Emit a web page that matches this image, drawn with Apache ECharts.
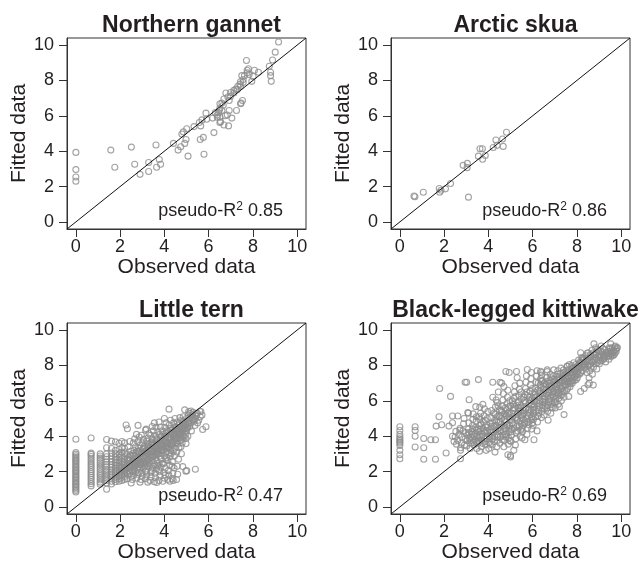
<!DOCTYPE html>
<html>
<head>
<meta charset="utf-8">
<script src="https://cdn.jsdelivr.net/npm/echarts@6/dist/echarts.min.js"></script>
<style>html,body{margin:0;padding:0;background:#fff}#c{width:644px;height:564px}</style>
</head>
<body>
<div id="c"></div>
<script>
const panelTitles = ['Northern gannet', 'Arctic skua', 'Little tern', 'Black-legged kittiwake'];
const r2Values = ['0.85', '0.86', '0.47', '0.69'];
const tickValues = [0, 2, 4, 6, 8, 10];
const axisRange = [-0.4, 10.4];
const xAxisName = 'Observed data';
const yAxisName = 'Fitted data';

const gannetData = [
[0,3.93],[0,2.96],[0,2.54],[0,2.30],
[1.58,4.06],[1.76,3.09],[2.51,4.23],[2.66,3.26],[2.90,2.69],[3.29,3.36],[3.29,2.85],[3.62,4.35],[3.65,3.09],[3.77,3.53],[3.83,3.26],
[4.41,4.44],[4.62,4.06],[4.74,4.25],[4.92,4.44],[4.98,4.66],[4.79,4.97],[5.01,5.27],[5.07,3.72],[5.34,5.39],[5.62,4.66],[5.64,5.43],[5.70,5.77],[5.76,4.78],[5.79,3.83],[5.88,6.15],
[6.18,5.87],[6.24,5.05],[6.39,6.05],[6.45,6.18],[6.51,6.43],[6.54,5.67],[6.60,6.72],[6.69,5.48],[6.78,7.29],[6.84,6.05],[6.90,5.43],[6.93,6.87],[6.99,7.10],[7.05,5.87],[7.14,7.29],[7.26,6.30],[7.29,7.48],[7.44,7.67],[7.47,6.72],[7.53,6.87],[7.56,7.89],[7.71,9.13],[7.74,8.58],[7.83,8.33],[7.95,7.95],[8.07,8.58],[8.25,8.46],[8.74,8.80],[8.80,8.46],[8.80,8.27],[8.83,7.95],[8.89,9.16],[9.01,9.60],[9.16,10.17],
[7.80,8.66],[7.74,8.43],[7.62,8.27],[7.50,8.27],[7.56,8.05],[7.44,7.93],[7.41,7.78],[7.32,7.67],[7.23,7.52],[7.14,7.44],[6.99,7.32],[6.87,7.06],[6.69,6.95],[6.51,6.68],[6.66,6.60],[7.44,6.68],[6.60,6.30],[6.48,6.30],[6.30,6.18],[6.39,5.92],[6.51,5.92],[6.75,6.00],[6.93,6.30],[6.51,5.62],[5.91,5.81],[5.58,5.62],[4.86,5.09],[8.01,8.23]
];

const skuaData = [
[0.64,1.47],[0.68,1.42],[1.06,1.68],[1.78,1.89],[1.80,1.68],[1.86,1.79],[2.06,1.87],[2.29,2.17],[2.86,3.20],[3.05,3.31],[3.04,3.07],[3.10,1.40],
[3.55,3.72],[3.62,4.14],[3.73,4.14],[3.74,3.54],[3.86,3.76],[4.22,4.21],[4.34,4.63],[4.40,4.33],[4.64,4.69],[4.67,4.27],[4.82,5.07]
];

const ternData = [
[0,0.84],[0,0.93],[0,1.01],[0,1.1],[0,1.17],[0,1.26],[0,1.34],[0,1.41],[0,1.5],[0,1.58],[0,1.66],[0,1.73],[0,1.81],[0,1.9],[0,1.98],[0,2.06],[0,2.13],[0,2.22],[0,2.3],[0,2.38],[0,2.47],[0,2.55],[0,2.63],[0,2.71],[0,2.8],[0,2.89],[0,2.98],[0,3.07],[0,3.83],
[0.69,1.19],[0.69,1.31],[0.69,1.42],[0.69,1.55],[0.69,1.66],[0.69,1.78],[0.69,1.89],[0.69,2.0],[0.69,2.12],[0.69,2.24],[0.69,2.36],[0.69,2.47],[0.69,2.6],[0.69,2.72],[0.69,2.85],[0.69,2.97],[0.69,3.04],[0.69,3.9],
[1.1,1.28],[1.1,1.4],[1.1,1.52],[1.1,1.64],[1.1,1.77],[1.1,1.88],[1.1,2.0],[1.1,2.13],[1.1,2.25],[1.1,2.38],[1.1,2.5],[1.1,2.63],[1.1,2.76],[1.1,2.88],[1.1,3.0],
[1.39,1.0],[1.39,1.35],[1.39,1.5],[1.39,1.62],[1.39,1.74],[1.39,1.87],[1.39,2.0],[1.39,2.12],[1.39,2.27],[1.39,2.4],[1.39,2.55],[1.39,2.7],[1.39,2.84],[1.39,3.0],[1.39,3.35],[1.39,3.81],
[1.61,1.3],[1.61,1.45],[1.61,1.58],[1.61,1.7],[1.61,1.84],[1.61,1.98],[1.61,2.1],[1.61,2.25],[1.61,2.4],[1.61,2.56],[1.61,2.7],[1.61,2.86],[1.61,3.05],[1.61,3.3],[1.61,3.72],
[1.79,1.42],[1.79,1.55],[1.79,1.68],[1.79,1.82],[1.79,1.95],[1.79,2.08],[1.79,2.2],[1.79,2.35],[1.79,2.5],[1.79,2.66],[1.79,2.82],[1.79,3.0],[1.79,3.2],[1.79,3.68],
[1.95,1.45],[1.95,1.6],[1.95,1.75],[1.95,1.9],[1.95,2.03],[1.95,2.18],[1.95,2.32],[1.95,2.48],[1.95,2.62],[1.95,2.8],[1.95,3.0],[1.95,3.25],[1.95,3.6],
[2.08,1.5],[2.08,1.66],[2.08,1.8],[2.08,1.95],[2.08,2.1],[2.08,2.25],[2.08,2.4],[2.08,2.56],[2.08,2.72],[2.08,2.9],[2.08,3.1],[2.08,3.35],[2.08,3.7],
[2.2,1.55],[2.2,1.72],[2.2,1.88],[2.2,2.02],[2.2,2.18],[2.2,2.34],[2.2,2.5],[2.2,2.68],[2.2,2.85],[2.2,3.05],[2.2,3.3],[2.2,3.62],
[2.27,4.63],[2.33,4.42],[2.81,4.61],[3.15,4.34],[2.5,1.35],[2.9,1.4],[3.25,1.4],
[2.32,1.6],[2.35,1.85],[2.4,2.05],[2.3,2.25],[2.45,2.4],[2.38,2.6],[2.42,2.78],[2.33,2.95],[2.48,3.15],[2.36,3.4],[2.44,3.7],[2.5,1.72],[2.47,2.2],[2.5,2.9],
[2.55,1.55],[2.6,1.78],[2.58,1.98],[2.64,2.15],[2.56,2.32],[2.66,2.5],[2.6,2.68],[2.68,2.85],[2.57,3.02],[2.63,3.2],[2.7,3.4],[2.6,3.62],[2.66,3.85],[2.7,2.0],[2.7,2.6],
[2.75,1.62],[2.8,1.85],[2.78,2.1],[2.84,2.28],[2.76,2.45],[2.86,2.62],[2.8,2.8],[2.88,2.98],[2.77,3.15],[2.83,3.32],[2.9,3.5],[2.8,3.7],[2.86,3.95],[2.9,2.2],[2.9,2.75],[2.74,4.1],
[2.95,1.55],[3.0,1.75],[2.98,1.95],[3.04,2.18],[2.96,2.38],[3.06,2.55],[3.0,2.72],[3.08,2.9],[2.97,3.08],[3.03,3.25],[3.1,3.45],[3.0,3.62],[3.06,3.82],[2.96,4.05],[3.1,2.3],[3.1,3.1],
[3.15,1.6],[3.2,1.82],[3.18,2.05],[3.24,2.28],[3.16,2.45],[3.26,2.65],[3.2,2.82],[3.28,3.0],[3.17,3.18],[3.23,3.35],[3.3,3.55],[3.2,3.72],[3.26,3.9],[3.3,4.15],[3.3,2.5],[3.3,3.2],[3.18,4.4],
[3.35,1.5],[3.4,1.7],[3.38,1.95],[3.44,2.2],[3.36,2.42],[3.46,2.6],[3.4,2.78],[3.48,2.95],[3.37,3.12],[3.43,3.3],[3.5,3.48],[3.4,3.65],[3.46,3.85],[3.38,4.05],[3.5,4.3],[3.5,2.3],[3.5,3.1],[3.45,4.55],
[3.55,1.42],[3.66,1.38],[3.6,1.65],[3.58,1.9],[3.64,2.15],[3.56,2.4],[3.66,2.6],[3.6,2.8],[3.68,2.98],[3.57,3.15],[3.63,3.32],[3.7,3.5],[3.6,3.68],[3.66,3.86],[3.58,4.05],[3.7,4.25],[3.62,4.5],[3.7,2.35],[3.7,3.1],[3.55,4.75],
[3.75,1.5],[3.8,1.75],[3.78,2.0],[3.84,2.25],[3.76,2.48],[3.86,2.7],[3.8,2.88],[3.88,3.05],[3.77,3.22],[3.83,3.4],[3.9,3.58],[3.8,3.75],[3.86,3.92],[3.78,4.1],[3.9,4.3],[3.82,4.52],[3.9,2.45],[3.9,3.2],[3.76,4.8],
[3.93,1.45],[4.0,1.62],[3.98,1.95],[4.04,2.2],[3.96,2.45],[4.06,2.68],[4.0,2.9],[4.08,3.08],[3.97,3.25],[4.03,3.42],[4.1,3.6],[4.0,3.78],[4.06,3.95],[3.98,4.12],[4.1,4.3],[4.02,4.5],[4.08,4.75],[4.1,2.8],[4.1,3.3],[4.0,5.0],
[4.15,1.55],[4.25,1.45],[4.2,1.8],[4.18,2.05],[4.24,2.35],[4.16,2.62],[4.26,2.85],[4.2,3.05],[4.28,3.22],[4.17,3.4],[4.23,3.58],[4.3,3.75],[4.2,3.92],[4.26,4.1],[4.18,4.28],[4.3,4.45],[4.22,4.65],[4.28,4.9],[4.21,5.53],[4.3,3.0],[4.3,3.5],
[4.35,1.6],[4.4,1.5],[4.38,1.9],[4.44,2.2],[4.36,2.55],[4.46,2.9],[4.4,3.15],[4.48,3.32],[4.37,3.5],[4.43,3.68],[4.5,3.85],[4.4,4.02],[4.46,4.2],[4.38,4.38],[4.5,4.55],[4.42,4.75],[4.48,5.0],[4.5,3.6],[4.5,4.1],
[4.55,1.55],[4.6,1.85],[4.58,2.3],[4.64,2.7],[4.56,3.1],[4.66,3.35],[4.6,3.55],[4.68,3.72],[4.57,3.9],[4.63,4.08],[4.7,4.25],[4.6,4.42],[4.66,4.6],[4.58,4.8],[4.7,5.05],[4.7,3.9],[4.55,4.3],
[4.77,3.01],[4.75,3.4],[4.8,3.62],[4.78,3.82],[4.84,4.0],[4.76,4.18],[4.86,4.35],[4.8,4.52],[4.88,4.7],[4.78,4.9],[4.85,5.1],[4.9,4.45],[4.83,2.28],[4.9,3.95],
[4.92,5.49],[4.98,3.87],[4.98,3.58],[5.01,2.05],[4.97,2.02],[4.95,4.1],[5.0,4.28],[5.05,4.46],[4.96,4.64],[5.04,4.82],[5.0,5.0],[5.08,5.2],[5.1,4.7],[5.06,4.0],[5.1,5.4],
[5.16,5.29],[5.2,5.42],[5.3,5.35],[5.15,4.55],[5.2,4.75],[5.25,4.95],[5.3,5.1],[5.22,4.3],[5.35,4.85],[5.4,5.0],[5.45,5.3],[5.49,5.3],[5.4,2.13],[5.38,4.6],[5.5,4.75],
[5.6,5.4],[5.65,5.4],[5.55,4.9],[5.73,4.38],[5.88,4.53],[5.62,5.1],[5.7,5.2],
[2.25,2.1],[2.37,2.45],[2.43,1.9],[2.52,2.55],[2.62,2.25],[2.68,2.7],[2.73,2.35],[2.82,2.55],[2.87,3.1],[2.93,2.5],[3.02,2.85],[3.07,3.35],[3.12,2.65],[3.22,3.05],[3.27,3.5],[3.32,2.75],[3.42,3.15],[3.47,3.6],[3.53,2.9],[3.62,3.45],[3.67,3.8],[3.73,3.25],[3.82,3.6],[3.87,4.0],[3.93,3.4],[4.02,3.65],[4.07,4.15],[4.13,3.5],[4.22,3.85],[4.27,4.35],[4.33,3.65],[4.42,4.1],[4.47,4.5],[4.53,3.95],[4.62,4.3],[4.67,4.7],[4.73,4.1],[4.82,4.45],[4.87,4.85],[4.93,4.3],[5.02,4.6],[5.13,4.9],[5.27,5.2],[3.15,2.0],[3.45,2.05],[3.75,2.1],[4.05,1.8],[4.35,2.3],[2.55,2.05],[2.85,1.95],
[2.28,1.95],[2.34,2.7],[2.41,2.3],[2.46,2.95],[2.53,2.4],[2.59,2.9],[2.65,2.35],[2.71,3.05],[2.77,2.6],[2.83,3.15],[2.89,2.4],[2.95,3.0],[3.01,2.45],[3.07,3.05],[3.13,2.5],[3.19,3.15],[3.25,2.6],[3.31,3.35],[3.37,2.9],[3.43,3.5],[3.49,2.85],[3.55,3.35],[3.61,3.0],[3.67,3.6],[3.73,3.0],[3.79,3.5],[3.85,3.2],[3.91,3.8],[3.97,3.55],[4.03,3.95],[4.09,3.4],[4.15,3.9],[4.21,3.35],[4.27,3.95],[4.33,4.2],[4.39,3.6],[4.45,4.0],[4.51,4.35],[4.57,3.75],[4.63,4.2],[4.69,4.5],[4.75,4.0],[4.81,4.3],[4.87,4.55],[4.93,4.75],[4.99,4.45],[5.07,4.75],[5.18,5.05],[5.32,4.95],[5.43,5.15]
];

const kittiwakeData = [
[0,4.53],[0,4.32],[0,4.11],[0,3.97],[0,3.85],[0,3.77],[0,3.68],[0,3.6],[0,3.47],[0,3.2],[0,2.95],[0,2.72],
[0.69,4.53],[0.69,4.32],[0.69,4.0],[0.69,3.39],
[1.08,3.87],[1.08,3.35],[1.08,2.7],[1.4,3.8],[1.61,3.8],[1.61,2.7],[2.09,3.05],[1.8,6.7],[2.29,6.25],[1.64,4.57],[1.77,5.1],[1.89,4.65],[2.38,4.76],[2.22,4.57],[2.38,5.14],[2.62,5.14],[2.71,4.34],[2.38,4.0],[2.53,4.27],[2.74,3.2],[2.74,2.72],[2.95,7.05],[3.02,7.05],[3.55,7.2],[3.13,6.06],[3.1,5.3],[3.31,5.26],[3.07,5.33],[3.43,5.67],[3.61,5.64],[3.58,5.1],[3.46,5.1],[4.2,7.05],[4.53,7.05],[4.79,7.66],[4.94,7.6],[5.27,7.66],[5.76,7.77],[6.36,7.67],[6.66,7.75],[6.96,7.75],[7.57,7.96],
[2.45,3.7],[2.5,3.95],[2.56,3.55],
[2.62,3.75],[2.68,4.1],[2.72,4.45],[2.78,3.6],[2.8,3.95],[2.85,4.3],[2.88,4.7],[2.92,3.5],[2.95,3.85],[2.98,4.2],[2.9,5.0],[2.75,3.35],
[3.02,3.45],[3.05,3.75],[3.08,4.05],[3.1,4.4],[3.12,4.75],[3.18,3.3],[3.2,3.6],[3.22,3.95],[3.25,4.25],[3.28,4.6],[3.3,4.95],[3.35,3.5],[3.38,3.8],[3.4,4.15],[3.42,4.5],[3.45,4.85],[3.48,3.3],[3.5,4.0],
[3.52,3.6],[3.55,3.9],[3.58,4.25],[3.6,4.6],[3.62,4.95],[3.65,5.3],[3.68,3.4],[3.7,3.75],[3.72,4.1],[3.75,4.45],[3.78,4.8],[3.8,5.15],[3.82,5.55],[3.85,3.55],[3.88,3.95],[3.9,4.3],[3.92,4.65],[3.95,5.0],[3.98,5.4],[3.9,3.2],[3.75,5.8],[3.6,3.15],
[4.02,3.3],[4.04,3.65],[4.06,4.0],[4.08,4.35],[4.1,4.7],[4.12,5.05],[4.15,5.45],[4.18,3.5],[4.2,3.85],[4.22,4.2],[4.25,4.55],[4.28,4.9],[4.3,5.25],[4.32,5.65],[4.35,6.05],[4.38,3.4],[4.4,3.75],[4.42,4.1],[4.44,4.45],[4.46,4.8],[4.48,5.15],[4.5,5.5],[4.4,5.9],[4.2,6.2],[4.45,6.5],[4.3,3.1],
[4.52,3.6],[4.54,3.95],[4.56,4.3],[4.58,4.65],[4.6,5.0],[4.62,5.35],[4.64,5.7],[4.66,6.05],[4.68,6.4],[4.7,3.4],[4.72,3.75],[4.74,4.1],[4.76,4.45],[4.78,4.8],[4.8,5.15],[4.82,5.5],[4.84,5.85],[4.86,6.2],[4.88,6.6],[4.9,3.55],[4.92,3.9],[4.94,4.25],[4.96,4.6],[4.98,4.95],[4.95,5.3],[4.92,5.65],[4.97,6.0],[4.6,7.0],[4.7,6.8],[4.88,2.95],
[5.0,2.91],[5.0,2.82],[5.02,3.7],[5.04,4.05],[5.06,4.4],[5.08,4.75],[5.1,5.1],[5.12,5.45],[5.14,5.8],[5.16,6.15],[5.18,6.5],[5.2,6.85],[5.22,3.5],[5.24,3.85],[5.26,4.2],[5.28,4.55],[5.3,4.9],[5.32,5.25],[5.34,5.6],[5.36,5.95],[5.38,6.3],[5.4,6.65],[5.42,7.0],[5.44,4.0],[5.46,4.35],[5.48,4.7],[5.5,5.05],[5.45,5.4],[5.47,5.75],[5.49,6.1],[5.3,7.3],[5.15,3.2],
[5.52,3.9],[5.54,4.25],[5.56,4.6],[5.58,4.95],[5.6,5.3],[5.62,5.65],[5.64,6.0],[5.66,6.35],[5.68,6.7],[5.7,7.05],[5.72,7.4],[5.74,4.1],[5.76,4.45],[5.78,4.8],[5.8,5.15],[5.82,5.5],[5.84,5.85],[5.86,6.2],[5.88,6.55],[5.9,6.9],[5.92,7.25],[5.94,7.6],[5.96,4.4],[5.98,4.75],[5.95,5.1],[5.93,5.45],[5.97,5.8],[5.99,6.15],[5.65,3.8],
[6.02,4.6],[6.04,4.95],[6.06,5.3],[6.08,5.65],[6.1,6.0],[6.12,6.35],[6.14,6.7],[6.16,7.05],[6.18,7.4],[6.2,7.7],[6.22,4.8],[6.24,5.15],[6.26,5.5],[6.28,5.85],[6.3,6.2],[6.32,6.55],[6.34,6.9],[6.36,7.25],[6.38,7.6],[6.4,5.05],[6.42,5.4],[6.44,5.75],[6.46,6.1],[6.48,6.45],[6.5,6.8],[6.45,7.15],[6.4,7.45],[6.06,3.8],[6.2,4.3],
[6.52,5.2],[6.54,5.55],[6.56,5.9],[6.58,6.25],[6.6,6.6],[6.62,6.95],[6.64,7.3],[6.66,7.65],[6.68,5.4],[6.7,5.75],[6.72,6.1],[6.74,6.45],[6.76,6.8],[6.78,7.15],[6.8,7.5],[6.82,5.3],[6.84,5.65],[6.86,6.0],[6.88,6.35],[6.9,6.7],[6.92,7.05],[6.94,7.4],[6.98,5.9],[6.7,4.9],[6.96,6.55],
[7.02,5.6],[7.04,5.95],[7.06,6.3],[7.08,6.65],[7.1,7.0],[7.12,7.35],[7.14,7.7],[7.16,5.8],[7.18,6.15],[7.2,6.5],[7.22,6.85],[7.24,7.2],[7.26,7.55],[7.28,7.85],[7.3,6.0],[7.32,6.35],[7.34,6.7],[7.36,7.05],[7.38,7.4],[7.4,7.75],[7.42,6.2],[7.44,6.55],[7.21,5.67],[7.42,5.22],
[7.5,6.9],[7.52,7.25],[7.54,7.6],[7.56,7.95],[7.58,6.7],[7.6,7.05],[7.62,7.4],[7.64,7.75],[7.66,8.05],[7.63,6.25],[7.7,6.95],[7.72,7.3],[7.74,7.65],[7.76,8.0],[7.8,7.15],[7.82,7.5],[7.84,7.85],[7.86,8.15],[7.9,7.35],[7.92,7.7],[7.95,8.05],[7.98,7.55],
[8.02,7.3],[8.04,7.65],[8.06,8.0],[8.08,8.3],[8.12,7.5],[8.14,7.85],[8.17,6.53],[8.17,8.72],[8.2,8.15],[8.22,8.45],[8.25,7.7],[8.28,8.05],[8.3,8.35],[8.33,6.7],[8.35,7.9],[8.38,8.2],[8.4,8.55],[8.45,7.6],[8.48,8.0],[8.5,6.91],[8.5,8.4],
[8.52,8.7],[8.55,7.3],[8.56,7.0],[8.58,7.7],[8.62,8.1],[8.65,8.5],[8.68,8.85],[8.7,7.5],[8.74,6.89],[8.75,7.9],[8.77,9.22],[8.8,8.3],[8.82,8.65],[8.85,9.0],[8.9,7.8],[8.92,8.15],[8.95,8.5],[8.98,8.85],
[9.02,8.1],[9.05,8.45],[9.08,8.8],[9.1,9.1],[9.15,8.3],[9.2,8.6],[9.23,8.38],[9.25,8.9],[9.3,8.2],[9.35,8.5],[9.4,8.8],[9.45,8.35],[9.48,8.65],[9.5,8.95],
[9.53,8.5],[9.53,9.22],[9.56,8.75],[9.6,9.0],[9.62,8.55],[9.66,8.85],[9.7,9.05],[9.72,8.7],[9.76,8.9],[9.8,8.99],[9.83,9.01],[9.78,8.8],
[3.15,3.85],[3.27,4.1],[3.33,3.65],[3.45,4.35],[3.57,3.75],[3.63,4.4],[3.7,4.0],[3.83,4.2],[3.87,3.7],[3.95,4.5],
[4.05,3.85],[4.13,4.55],[4.17,4.05],[4.27,3.7],[4.33,4.35],[4.37,4.85],[4.43,3.95],[4.53,4.5],[4.57,5.15],[4.63,3.8],[4.67,4.25],[4.73,4.95],[4.77,5.6],[4.83,4.1],[4.87,4.6],[4.93,5.1],[4.97,3.75],
[5.03,4.25],[5.07,4.9],[5.13,5.6],[5.17,4.45],[5.23,5.05],[5.27,5.75],[5.33,4.3],[5.37,5.4],[5.43,4.85],[5.47,5.2],[5.53,4.45],[5.57,5.45],[5.63,4.8],[5.67,5.9],[5.73,5.0],[5.77,6.3],[5.83,4.65],[5.87,5.35],[5.93,6.0],[5.97,5.0],
[6.03,5.5],[6.07,6.2],[6.13,5.1],[6.17,5.9],[6.23,6.6],[6.27,5.3],[6.33,6.0],[6.37,6.75],[6.43,5.6],[6.47,6.3],[6.53,7.0],[6.57,5.7],[6.63,6.4],[6.67,7.1],[6.73,5.95],[6.77,6.6],[6.83,7.3],[6.87,5.8],[6.93,6.5],[6.97,7.2],
[7.03,6.1],[7.07,6.8],[7.13,7.5],[7.17,6.4],[7.23,7.0],[7.27,6.7],[7.33,7.3],[7.37,6.5],[7.43,7.1],[7.47,7.5],[7.53,6.6],[7.57,7.4],[7.63,7.0],[7.67,7.6],[7.73,7.1],[7.77,7.8],[7.83,7.3],[7.87,7.7],[7.93,7.9],[7.97,7.2],
[8.03,7.8],[8.1,8.1],[8.18,7.6],[8.24,8.3],[8.32,8.0],[8.42,8.3],[8.47,8.7],[8.57,8.3],[8.63,7.9],[8.72,8.2],[8.78,8.6],[8.87,8.4],[8.93,8.9],[9.03,8.6],[9.12,8.5],[9.18,8.95],[9.28,8.6],[9.38,8.7],[9.46,9.0],[9.58,8.65],[9.68,8.6],[9.74,9.1],
[4.09,3.55],[4.14,4.25],[4.19,4.75],[4.24,5.3],[4.29,3.95],[4.34,4.6],[4.39,5.1],[4.44,5.7],[4.49,4.3],[4.54,4.8],[4.59,5.45],[4.64,4.05],[4.69,4.6],[4.74,5.25],[4.79,3.95],[4.84,4.65],[4.89,5.3],[4.94,4.45],[4.99,5.7],
[5.05,5.3],[5.09,6.0],[5.14,4.65],[5.19,5.55],[5.24,6.25],[5.29,5.0],[5.34,5.9],[5.39,4.55],[5.44,5.6],[5.49,6.5],[5.54,5.2],[5.59,6.2],[5.64,4.7],[5.69,5.55],[5.74,6.5],[5.79,5.3],[5.84,6.05],[5.89,4.9],[5.94,5.75],[5.99,6.7],
[6.05,5.8],[6.09,6.5],[6.15,5.4],[6.19,6.25],[6.25,7.0],[6.29,5.7],[6.35,6.4],[6.39,7.1],[6.45,5.95],[6.49,6.65],[6.55,6.1],[6.59,6.9],[6.65,5.6],[6.69,6.3],[6.75,7.0],[6.79,6.2],[6.85,6.85],[6.89,5.6],[6.95,6.2],[6.99,6.9],
[7.05,6.45],[7.09,7.2],[7.15,6.6],[7.19,7.3],[7.25,6.3],[7.29,7.1],[7.35,6.85],[7.39,7.6],[7.45,6.9],[7.49,7.3],[7.55,7.1],[7.59,7.7],[7.65,7.25],[7.69,6.8],[7.75,7.45],[7.79,7.0],[7.85,7.6],[7.89,7.15],[7.95,7.45],[7.99,7.9],
[8.05,7.5],[8.09,7.95],[8.15,8.2],[8.21,7.9],[8.27,8.4],[8.34,8.1],[8.41,7.8],[8.46,8.2],[8.55,8.0],[8.61,8.6],[8.67,8.25],[8.73,8.7],[8.83,8.1],[8.88,8.75],[8.97,8.3],[9.07,8.25],[9.13,8.75],[9.22,8.45],[9.33,8.75],[9.43,8.55],[9.52,8.8],[9.64,8.75],
[3.13,4.2],[3.23,3.75],[3.29,4.4],[3.37,4.0],[3.47,3.7],[3.53,4.4],[3.59,4.0],[3.67,4.7],[3.73,3.6],[3.79,4.3],[3.85,4.9],[3.93,3.85],[3.97,4.25]
];

const panelData = [gannetData, skuaData, ternData, kittiwakeData];

const FONT = '"Liberation Sans", Arial, Helvetica, sans-serif';
const TXT = '#231f20';
const grids = [
  {left: 67, top: 38, width: 239, height: 191},
  {left: 391, top: 38, width: 239, height: 191},
  {left: 67, top: 323, width: 239, height: 191},
  {left: 391, top: 323, width: 239, height: 191}
];

const chart = echarts.init(document.getElementById('c'), null, {renderer: 'canvas'});
const option = {
  animation: false,
  backgroundColor: '#fff',
  textStyle: {fontFamily: FONT},
  title: grids.map((g, i) => ({
    text: panelTitles[i],
    left: g.left + g.width / 2,
    top: g.top - 29,
    textAlign: 'center',
    textStyle: {fontSize: 23, fontWeight: 'bold', color: TXT, fontFamily: FONT}
  })),
  grid: grids.map(g => Object.assign({show: true, borderColor: '#333', borderWidth: 1, backgroundColor: 'transparent'}, g)),
  xAxis: grids.map((g, i) => ({
    type: 'value', gridIndex: i, min: axisRange[0], max: axisRange[1],
    name: xAxisName, nameLocation: 'middle', nameGap: 27,
    nameTextStyle: {fontSize: 21, color: TXT, fontFamily: FONT},
    axisLine: {show: true, onZero: false, lineStyle: {color: '#333', width: 1}},
    axisTick: {show: true, inside: false, length: 8, customValues: tickValues, lineStyle: {color: '#333'}},
    axisLabel: {customValues: tickValues, fontSize: 18, color: TXT, margin: 9, fontFamily: FONT},
    splitLine: {show: false}
  })),
  yAxis: grids.map((g, i) => ({
    type: 'value', gridIndex: i, min: axisRange[0], max: axisRange[1],
    name: yAxisName, nameLocation: 'middle', nameGap: 33,
    nameTextStyle: {fontSize: 21, color: TXT, fontFamily: FONT},
    axisLine: {show: true, onZero: false, lineStyle: {color: '#333', width: 1}},
    axisTick: {show: true, inside: false, length: 8, customValues: tickValues, lineStyle: {color: '#333'}},
    axisLabel: {customValues: tickValues, fontSize: 18, color: TXT, margin: 13, fontFamily: FONT},
    splitLine: {show: false}
  })),
  series: [],
  graphic: grids.map((g, i) => ({
    type: 'text',
    x: g.left + g.width - 23,
    y: g.top + g.height - 8,
    style: {
      text: '{a|pseudo-R}{s|2}{a| ' + r2Values[i] + '}',
      align: 'right', verticalAlign: 'bottom',
      rich: {
        a: {fontSize: 18, fill: TXT, fontFamily: FONT, lineHeight: 20},
        s: {fontSize: 12, fill: TXT, fontFamily: FONT, verticalAlign: 'top', lineHeight: 12}
      }
    }
  }))
};
panelData.forEach((d, i) => {
  option.series.push({
    type: 'scatter', xAxisIndex: i, yAxisIndex: i, data: d,
    symbol: 'circle', symbolSize: 6,
    itemStyle: {color: 'rgba(0,0,0,0)', borderColor: '#8c8c8c', borderWidth: 1.1},
    silent: true, z: 2
  });
  option.series.push({
    type: 'line', xAxisIndex: i, yAxisIndex: i,
    data: [[axisRange[0], axisRange[0]], [axisRange[1], axisRange[1]]],
    symbol: 'none', lineStyle: {color: '#111', width: 1}, silent: true, z: 3
  });
});
chart.setOption(option);
</script>
</body>
</html>
